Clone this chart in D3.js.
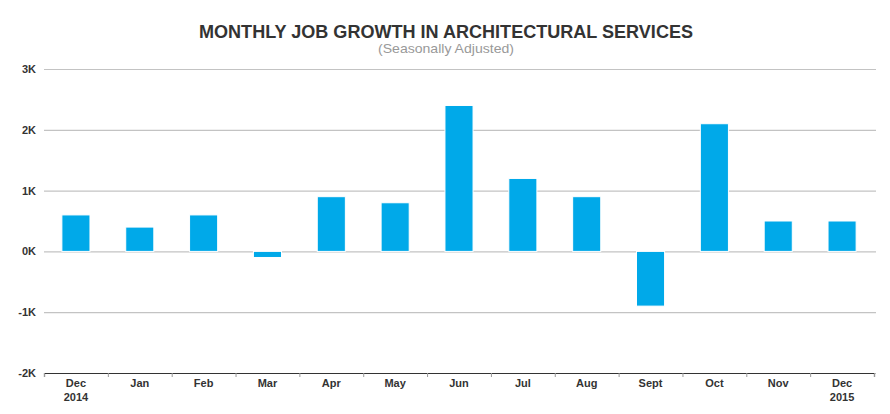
<!DOCTYPE html>
<html>
<head>
<meta charset="utf-8">
<script src="https://cdn.jsdelivr.net/npm/d3@7"></script>
<style>
	body { margin: 0; background: #fff; }
	svg { display: block; font-family: "Liberation Sans", Arial, sans-serif; }
</style>
</head>
<body>
<figure id="jobChart" style="margin:0"></figure>
<script>
// data (thousands of jobs)
const months = ["Dec", "Jan", "Feb", "Mar", "Apr", "May", "Jun", "Jul", "Aug", "Sept", "Oct", "Nov", "Dec"];
const years = ["2014", "", "", "", "", "", "", "", "", "", "", "", "2015"];
const growth = [0.6, 0.4, 0.6, -0.1, 0.9, 0.8, 2.4, 1.2, 0.9, -0.9, 2.1, 0.5, 0.5];
const yTicks = [-2, -1, 0, 1, 2, 3];

const width = 890;
const height = 414;
const margin = { top: 69, bottom: 41, left: 44, right: 16 };

const svg = d3.select("figure#jobChart").append("svg")
	.attr("width", width).attr("height", height)
	.attr("viewBox", `0 0 ${width} ${height}`);

const innerW = width - margin.left - margin.right;
const innerH = height - margin.top - margin.bottom;

const x = d3.scaleBand().domain(d3.range(months.length)).range([0, innerW]).paddingInner(0.56).paddingOuter(0.28);
const y = d3.scaleLinear().domain([-2, 3]).range([innerH, 0]);

// title
svg.append("text")
	.attr("x", 446).attr("y", 38)
	.attr("text-anchor", "middle")
	.attr("font-size", 18.5).attr("font-weight", "bold")
	.attr("fill", "#333")
	.attr("textLength", 494).attr("lengthAdjust", "spacingAndGlyphs")
	.text("MONTHLY JOB GROWTH IN ARCHITECTURAL SERVICES");
svg.append("text")
	.attr("x", 446).attr("y", 53)
	.attr("text-anchor", "middle")
	.attr("font-size", 13)
	.attr("fill", "#999")
	.attr("textLength", 136).attr("lengthAdjust", "spacingAndGlyphs")
	.text("(Seasonally Adjusted)");

const g = svg.append("g").attr("transform", `translate(${margin.left},${margin.top})`);

// Y axis with gridlines
const yAxis = g.append("g").call(d3.axisLeft(y)
	.tickValues(yTicks)
	.tickSize(-innerW - 2)
	.tickPadding(8)
	.tickFormat(d => d + "K"));
yAxis.select(".domain").remove();
yAxis.selectAll(".tick line").attr("stroke", "#c3c3c3").attr("stroke-width", 1.2);
yAxis.selectAll(".tick text").attr("font-size", 11).attr("font-weight", "bold").attr("fill", "#333")
	.attr("font-family", "Liberation Sans, Arial, sans-serif");

// bars
g.selectAll("rect.bar").data(growth).enter().append("rect")
	.attr("class", "bar")
	.attr("x", (d, i) => x(i))
	.attr("y", d => y(Math.max(0, d)))
	.attr("width", x.bandwidth())
	.attr("height", d => Math.abs(y(d) - y(0)))
	.attr("fill", "#00a9e9")
	.attr("stroke", "#fff").attr("stroke-width", 1);

// X axis
const xTickScale = d3.scaleLinear().domain([0, months.length]).range([0, innerW]);
const xAxis = g.append("g").attr("transform", `translate(0,${innerH})`)
	.call(d3.axisBottom(xTickScale).tickValues(d3.range(months.length + 1)).tickSize(4).tickFormat(""));
xAxis.select(".domain").attr("stroke", "#333").attr("stroke-width", 1.2);
xAxis.selectAll(".tick line").attr("stroke", "#999");

const labels = g.append("g").attr("transform", `translate(0,${innerH})`);
labels.selectAll("text.month").data(months).enter().append("text")
	.attr("class", "month")
	.attr("x", (d, i) => x(i) + x.bandwidth() / 2)
	.attr("y", 14)
	.attr("text-anchor", "middle")
	.attr("font-size", 11).attr("font-weight", "bold").attr("fill", "#333")
	.text(d => d);
labels.selectAll("text.year").data(years).enter().append("text")
	.attr("class", "year")
	.attr("x", (d, i) => x(i) + x.bandwidth() / 2)
	.attr("y", 28)
	.attr("text-anchor", "middle")
	.attr("font-size", 11).attr("font-weight", "bold").attr("fill", "#333")
	.text(d => d);
</script>
</body>
</html>
